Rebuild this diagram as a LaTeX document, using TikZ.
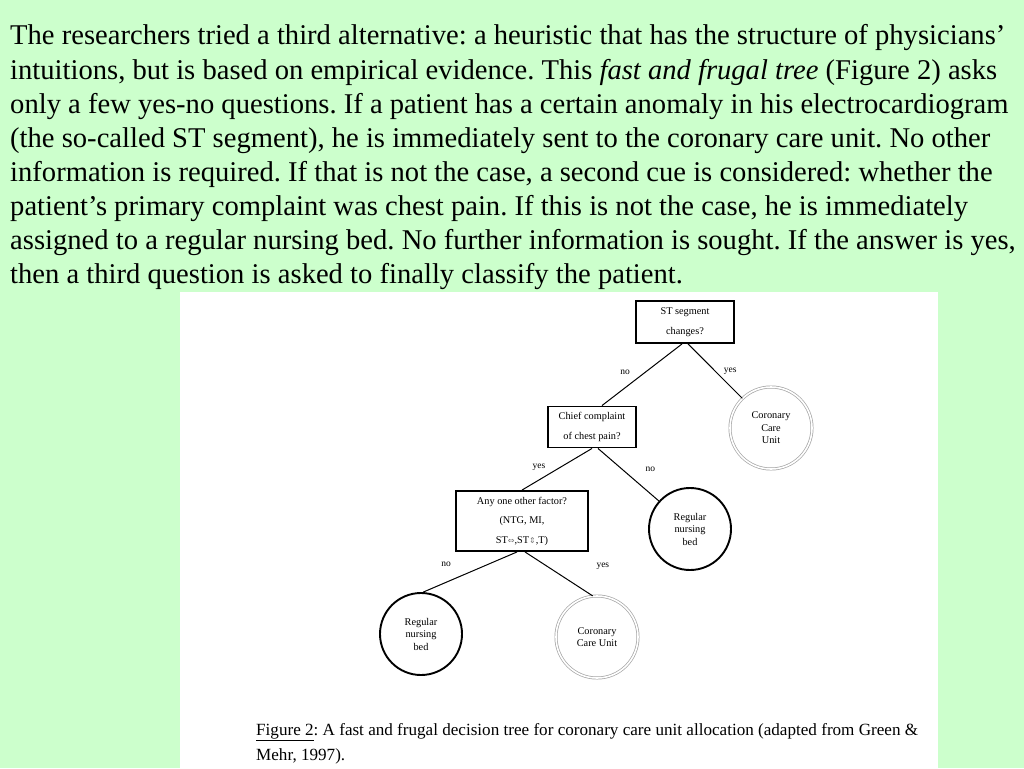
\documentclass[tikz,border=0pt]{standalone}
\usepackage{fontspec}
\setmainfont{Liberation Serif}
\newfontfamily\arrowfont{DejaVu Sans}
\definecolor{slidegreen}{RGB}{204,255,204}
\definecolor{ringgray}{RGB}{165,165,165}
\definecolor{glyphgray}{RGB}{120,120,120}
\frenchspacing

\begin{document}
\begin{tikzpicture}[
    x=1pt, y=-1pt,
    question/.style={draw, rectangle, line width=1.9pt, inner sep=0pt, align=center, font=\fontsize{10.3}{19.5}\selectfont},
    leafbed/.style={draw, circle, line width=1.9pt, minimum size=82pt, inner sep=0pt, align=center, font=\fontsize{10.3}{12.5}\selectfont},
    leafccu/.style={circle, draw=ringgray, line width=0.7pt, double=white, double distance=1.6pt, minimum size=82pt, inner sep=0pt, align=center, font=\fontsize{10.3}{12.5}\selectfont},
    answer/.style={inner sep=1pt, font=\fontsize{9.5}{11}\selectfont},
    edge/.style={line width=1pt}
]

    % Hintergrund und weisse Abbildungsflaeche
    \useasboundingbox (0,0) rectangle (1024,768);
    \fill[slidegreen] (0,0) rectangle (1024,768);
    \fill[white] (180,292) rectangle (938,768);

    % Fliesstext oben (zeilenweise)
    \foreach \txt [count=\i from 0] in {
        {The researchers tried a third alternative: a heuristic that has the structure of physicians’},
        {intuitions, but is based on empirical evidence. This \textit{fast and frugal tree} (Figure 2) asks},
        {only a few yes-no questions. If a patient has a certain anomaly in his electrocardiogram},
        {(the so-called ST segment), he is immediately sent to the coronary care unit. No other},
        {information is required. If that is not the case, a second cue is considered: whether the},
        {patient’s primary complaint was chest pain. If this is not the case, he is immediately},
        {assigned to a regular nursing bed. No further information is sought. If the answer is yes,},
        {then a third question is asked to finally classify the patient.}}
        \node[anchor=base west, inner sep=0pt, font=\fontsize{28.6}{34}\selectfont] (line\i) at (10,45+34*\i) {\txt};

    % Entscheidungsbaum
    \node[question, minimum width=98pt, minimum height=42pt] (st) at (685,322) {ST segment\\changes?};
    \node[leafccu] (ccu) at (771,428) {Coronary\\Care\\Unit};
    \node[question, minimum width=88pt, minimum height=41pt] (chief) at (592,427) {Chief complaint\\of chest pain?};
    \node[leafbed] (bed) at (690,529) {Regular\\nursing\\bed};
    \node[question, minimum width=132pt, minimum height=60pt] (factor) at (522,521)
        {Any one other factor?\\(NTG, MI,\\ST{\arrowfont\color{glyphgray}\fontsize{8}{10}\selectfont ⇔},ST{\arrowfont\color{glyphgray}\fontsize{8}{10}\selectfont ⇕},T)};
    \node[leafbed] (bedlow) at (421,634) {Regular\\nursing\\bed};
    \node[leafccu] (cculow) at (597,637) {Coronary\\Care Unit};

    % Verbindungen mit Beschriftung
    \draw[edge] ([xshift=-3pt]st.south) -- node[answer, xshift=-17pt, yshift=2pt] {no} ([xshift=10pt]chief.north);
    \draw[edge] ([xshift=3pt]st.south) -- node[answer, xshift=15pt, yshift=0pt] {yes} (ccu.134);
    \draw[edge] (chief.south) -- node[answer, xshift=-18pt, yshift=2pt] {yes} (factor.north);
    \draw[edge] ([xshift=6pt]chief.south) -- node[answer, xshift=22pt, yshift=5pt] {no} (bed.138);
    \draw[edge] ([xshift=-5pt]factor.south) -- node[answer, xshift=-24pt, yshift=8pt] {no} (bedlow.87);
    \draw[edge] ([xshift=3pt]factor.south) -- node[answer, xshift=44pt, yshift=8pt] {yes} (cculow.96);

    % Bildunterschrift
    \node[anchor=base west, inner sep=0pt, font=\fontsize{17.1}{20}\selectfont] (caption) at (256,735)
        {\underline{Figure 2}: A fast and frugal decision tree for coronary care unit allocation (adapted from Green \&};
    \node[anchor=base west, inner sep=0pt, font=\fontsize{17.1}{20}\selectfont] (captiontail) at (256,760) {Mehr, 1997).};

\end{tikzpicture}
\end{document}
